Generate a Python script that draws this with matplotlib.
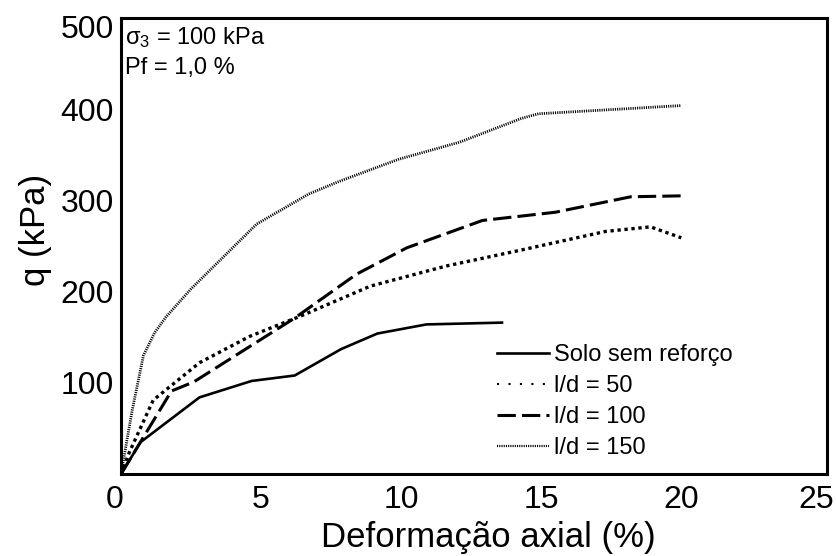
import matplotlib
matplotlib.use("Agg")
import matplotlib.pyplot as plt
from matplotlib.lines import Line2D
from matplotlib.transforms import ScaledTranslation

plt.rcParams['font.family'] = ['Liberation Sans', 'DejaVu Sans']
plt.rcParams['mathtext.fontset'] = 'custom'
plt.rcParams['mathtext.rm'] = 'Liberation Sans'
plt.rcParams['mathtext.default'] = 'regular'

# Axial strain (%) and deviator stress q (kPa) for each test series
solo_x = [0, 0.7, 2.8, 4.66, 6.2, 7.86, 9.15, 10.9, 13.6]
solo_q = [0, 35, 84, 102, 108, 137, 154, 164, 166]

ld50_x = [0, 0.3, 1.15, 2.8, 4.6, 6.4, 8.9, 11.6, 14.2, 17.3, 18.9, 20.0]
ld50_q = [0, 24, 81, 122, 151, 173, 206, 228, 245, 266, 271, 259]

ld100_x = [0, 1.8, 2.6, 6.2, 8.4, 10.2, 12.9, 15.5, 18.2, 20.0]
ld100_q = [0, 91, 101, 171, 219, 248, 278, 287, 304, 305]

ld150_x = [0, 0.4, 0.8, 1.2, 1.6, 2.5, 4.84, 6.7, 7.8, 9.9, 12.1, 14.3, 14.9, 20.0]
ld150_q = [0, 70, 130, 155, 172, 203, 274, 307, 321, 345, 364, 390, 395, 404]

labels = ['Solo sem reforço', 'l/d = 50', 'l/d = 100', 'l/d = 150']
x_ticks = [0, 5, 10, 15, 20, 25]
y_ticks = [100, 200, 300, 400, 500]

fig = plt.figure(figsize=(8.37, 5.56), dpi=100)
ax = fig.add_axes([0.1446, 0.1475, 0.8434, 0.8201])

ax.plot(solo_x, solo_q, color='black', lw=1.9, solid_joinstyle='miter')
ax.plot(ld50_x, ld50_q, color='black', lw=2.4, linestyle=(0, (1, 1.1)))
ax.plot(ld100_x, ld100_q, color='black', lw=2.2, linestyle=(0, (6, 2)))
ax.plot(ld150_x, ld150_q, color='black', lw=2.0, linestyle=(0, (0.4, 0.4)))

ax.set_xlim(0, 25.2)
ax.set_ylim(0, 500)
ax.set_xticks(x_ticks)
ax.set_yticks(y_ticks)
ax.tick_params(length=0, labelsize=23)
ax.tick_params(axis='x', pad=8)
ax.tick_params(axis='y', pad=5)
for s in ax.spines.values():
    s.set_linewidth(2.2)

# nudge the end labels away from the corners
top_lab = ax.get_yticklabels()[-1]
top_lab.set_transform(top_lab.get_transform() +
                      ScaledTranslation(0, -0.08, fig.dpi_scale_trans))
zero_lab = ax.get_xticklabels()[0]
zero_lab.set_transform(zero_lab.get_transform() +
                       ScaledTranslation(-0.06, 0, fig.dpi_scale_trans))
end_lab = ax.get_xticklabels()[-1]
end_lab.set_transform(end_lab.get_transform() +
                      ScaledTranslation(-0.05, 0, fig.dpi_scale_trans))

ax.set_xlabel('Deformação axial (%)', fontsize=25)
ax.xaxis.set_label_coords(0.52, -0.103)
ax.set_ylabel('q (kPa)', fontsize=25)
ax.yaxis.set_label_coords(-0.098, 0.535)

ax.text(0.006, 0.985, 'σ$_3$ = 100 kPa\nPf = 1,0 %', transform=ax.transAxes,
        ha='left', va='top', fontsize=17, linespacing=1.4)

handles = [
    Line2D([], [], color='black', lw=1.9),
    Line2D([], [], color='black', lw=1.5, linestyle=(0, (1, 4.5))),
    Line2D([], [], color='black', lw=2.2, linestyle=(0, (6, 2))),
    Line2D([], [], color='black', lw=1.6, linestyle=(0, (0.5, 0.5))),
]
ax.legend(handles, labels, loc='upper left', bbox_to_anchor=(0.5326, 0.285),
          frameon=False, fontsize=17, handlelength=2.2, handletextpad=0.2,
          labelspacing=0.38, borderpad=0, borderaxespad=0)

fig.savefig('out.png', dpi=100)
